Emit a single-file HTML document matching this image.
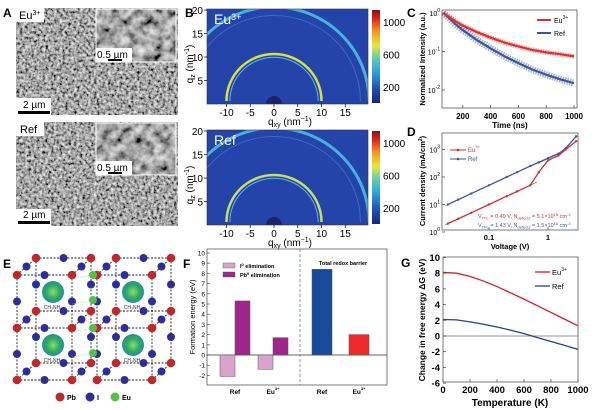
<!DOCTYPE html>
<html><head><meta charset="utf-8"><style>
body{margin:0;background:#fff}
svg{display:block;font-family:"Liberation Sans",sans-serif}
</style></head><body>
<svg id="fig" width="600" height="410" viewBox="0 0 600 410" xmlns="http://www.w3.org/2000/svg">
<defs>
<filter id="sem" x="0" y="0" width="100%" height="100%">
<feTurbulence type="fractalNoise" baseFrequency="0.35" numOctaves="3" seed="3"/>
<feColorMatrix type="matrix" values="1.4 0 0 0 -0.32  1.4 0 0 0 -0.32  1.4 0 0 0 -0.32  0 0 0 0 1"/>
</filter>
<filter id="sem2" x="0" y="0" width="100%" height="100%">
<feTurbulence type="fractalNoise" baseFrequency="0.11" numOctaves="3" seed="7"/>
<feColorMatrix type="matrix" values="1.3 0 0 0 -0.27  1.3 0 0 0 -0.27  1.3 0 0 0 -0.27  0 0 0 0 1"/>
</filter>
<linearGradient id="jet" x1="0" y1="1" x2="0" y2="0">
<stop offset="0" stop-color="#1a237e"/><stop offset="0.15" stop-color="#1e4fb0"/><stop offset="0.35" stop-color="#2fa8e0"/><stop offset="0.5" stop-color="#6fd0a0"/><stop offset="0.62" stop-color="#e8e83a"/><stop offset="0.78" stop-color="#f5901e"/><stop offset="0.9" stop-color="#e3261e"/><stop offset="1" stop-color="#8a1010"/>
</linearGradient>
<clipPath id="clipB1"><rect x="207" y="9" width="161" height="95"/></clipPath>
<clipPath id="clipB2"><rect x="207" y="130" width="161" height="95"/></clipPath>
<radialGradient id="mol"><stop offset="0" stop-color="#7fe07f"/><stop offset="0.6" stop-color="#33aa55"/><stop offset="1" stop-color="#1f8fb0"/></radialGradient>
</defs>

<g>
<text x="3" y="17" font-size="12" font-weight="bold">A</text>
<rect x="16" y="8" width="162" height="107" fill="#888" filter="url(#sem)"/>
<rect x="96" y="9" width="80" height="53" fill="#888" filter="url(#sem2)"/>
<rect x="96" y="9" width="80" height="53" fill="none" stroke="#fff" stroke-width="1"/>
<rect x="16" y="8" width="28" height="14" fill="#fff"/>
<text x="19" y="19" font-size="11">Eu<tspan font-size="7" dy="-4">3+</tspan></text>
<rect x="96" y="48" width="36" height="14" fill="#fff"/>
<text x="97" y="58" font-size="10">0.5 µm</text>
<rect x="108" y="59" width="14" height="2" fill="#000"/>
<rect x="16" y="98" width="35" height="17" fill="#fff"/>
<text x="23" y="108" font-size="10">2 µm</text>
<rect x="18" y="111" width="32" height="3" fill="#000"/>

<rect x="16" y="122" width="162" height="104" fill="#888" filter="url(#sem)"/>
<rect x="96" y="123" width="80" height="52" fill="#888" filter="url(#sem2)"/>
<rect x="96" y="123" width="80" height="52" fill="none" stroke="#fff"/>
<rect x="16" y="122" width="28" height="14" fill="#fff"/>
<text x="20" y="133" font-size="11">Ref</text>
<rect x="96" y="161" width="36" height="14" fill="#fff"/>
<text x="97" y="171" font-size="10">0.5 µm</text>
<rect x="108" y="172" width="14" height="2" fill="#000"/>
<rect x="16" y="209" width="35" height="17" fill="#fff"/>
<text x="23" y="218" font-size="10">2 µm</text>
<rect x="18" y="221" width="32" height="3" fill="#000"/>
</g>

<g id="pb">
<text x="185" y="17" font-size="12" font-weight="bold">B</text>
</g>
<g id="pc">
<text x="407" y="17" font-size="12" font-weight="bold">C</text>
</g>
<g id="pd">
<text x="407" y="136" font-size="12" font-weight="bold">D</text>
</g>
<g id="pe">
<text x="3" y="268" font-size="12" font-weight="bold">E</text>
</g>
<g id="pf">
<text x="183" y="268" font-size="12" font-weight="bold">F</text>
</g>
<g id="pg">
<text x="401" y="267" font-size="12" font-weight="bold">G</text>
</g>
</svg>
<script>
const bRingRadii = [10, 9.3, 18.2, 20];
const bRingColorsEu = ['#d8e040', '#5ab8f0', '#4a86d0', '#4ab0e0'];
const bRingColorsRef = ['#c8e060', '#5ab8f0', '#4a86d0', '#4ab0e0'];
const bXTicks = [-10, -5, 0, 5, 10, 15];
const bYTicks = [5, 10, 15, 20];
const cbTicks = [200, 600, 1000];

const cTimes = [60, 100, 150, 200, 300, 400, 500, 600, 700, 800, 900, 1000];
const cEu = [1, 0.8, 0.6, 0.47, 0.32, 0.23, 0.17, 0.135, 0.11, 0.095, 0.085, 0.075];
const cRef = [1, 0.75, 0.5, 0.36, 0.2, 0.12, 0.075, 0.05, 0.034, 0.025, 0.019, 0.015];
const cXTicks = [200, 400, 600, 800, 1000];
const cYTicks = [0, -1, -2];

const dV = [0.02, 0.03, 0.05, 0.1, 0.2, 0.3, 0.5, 0.7, 1, 1.5, 2, 3];
const dRef = [10, 15, 25, 50, 100, 150, 250, 340, 480, 700, 1100, 3000];
const dEu = [2, 3, 5, 10, 20, 30, 50, 150, 400, 600, 1000, 2000];
const dXTicks = [0.1, 1];
const dYTicks = [0, 1, 2, 3];

const fCats = ['Ref', 'Eu3+'];
const fI0 = [-2.1, -1.4];
const fPb0 = [5.3, 1.7];
const fTotal = [8.4, 2.0];
const fYTicks = [-2, -1, 0, 1, 2, 3, 4, 5, 6, 7, 8, 9, 10];

const gT = [0, 100, 200, 300, 400, 500, 600, 700, 800, 900, 1000];
const gEu = [8.1, 8.0, 7.6, 7.0, 6.3, 5.5, 4.7, 3.85, 3.0, 2.15, 1.3];
const gRef = [2.1, 2.05, 1.8, 1.5, 1.15, 0.75, 0.3, -0.2, -0.7, -1.2, -1.7];
const gXTicks = [0, 200, 400, 600, 800, 1000];
const gYTicks = [10, 8, 6, 4, 2, 0, -2, -4, -6];

const NS = 'http://www.w3.org/2000/svg';
function mk(parent, tag, attrs, text) {
  const e = document.createElementNS(NS, tag);
  for (const k in attrs) e.setAttribute(k, attrs[k]);
  if (text !== undefined) e.textContent = text;
  parent.appendChild(e);
  return e;
}
function sup(t, base, s, size) {
  t.textContent = base;
  mk(t, 'tspan', {'font-size': size || 6, dy: -4}, s);
  return t;
}

const pb = document.getElementById('pb');
function bx(q) { return 274 + q * 4.75; }
function drawGiwaxs(top, colors, clip, name) {
  const bottom = top + 95;
  const by = q => bottom - q * 4.7;
  const g = mk(pb, 'g', {'clip-path': 'url(#' + clip + ')'});
  
  
  mk(g, 'rect', {x: 207, y: top, width: 161, height: 95, fill: '#2444aa'});
  bRingRadii.forEach((r, i) => {
    const rx = r * 4.75, ry = r * 4.7;
    const a = mk(g, 'path', {d: `M${bx(-r)},${bottom - 3} A${rx},${ry} 0 0 1 ${bx(r)},${bottom - 3}`, fill: 'none', stroke: colors[i], 'stroke-width': i === 0 ? 2.5 : (i === 3 ? 3 : 1), opacity: i === 2 ? 0.6 : 1});
    
    
  });
  mk(g, 'ellipse', {cx: bx(0), cy: bottom, rx: 8, ry: 8, fill: '#1a2270'});
  mk(pb, 'rect', {x: 207, y: top, width: 161, height: 95, fill: 'none', stroke: '#333', 'stroke-width': 0.6});
  const lab = mk(pb, 'text', {x: 214, y: top + 15, 'font-size': 14, fill: '#fff'});
  if (name === 'giwaxs-eu') sup(lab, 'Eu', '3+', 9); else lab.textContent = 'Ref';
  
  
  bYTicks.forEach(v => {
    mk(pb, 'line', {x1: 204, x2: 207, y1: by(v), y2: by(v), stroke: '#000', 'stroke-width': 0.7});
    const t = mk(pb, 'text', {x: 203, y: by(v) + 4, 'font-size': 10, 'text-anchor': 'end'}, v);
    
    
  });
  const yt = mk(pb, 'text', {transform: `translate(193,${top + 55}) rotate(-90)`, 'font-size': 10, 'text-anchor': 'middle'});
  yt.innerHTML = 'q<tspan font-size="7" dy="2">z</tspan><tspan dy="-2"> (nm</tspan><tspan font-size="7" dy="-4">-1</tspan><tspan dy="4">)</tspan>';
  
  
  bXTicks.forEach(v => {
    mk(pb, 'line', {x1: bx(v), x2: bx(v), y1: bottom, y2: bottom + 3, stroke: '#000', 'stroke-width': 0.7});
    const t = mk(pb, 'text', {x: bx(v), y: bottom + 12, 'font-size': 10, 'text-anchor': 'middle'}, v);
    
    
  });
  const xt = mk(pb, 'text', {x: 290, y: bottom + 21, 'font-size': 10, 'text-anchor': 'middle'});
  xt.innerHTML = 'q<tspan font-size="7" dy="2">xy</tspan><tspan dy="-2"> (nm</tspan><tspan font-size="7" dy="-4">−1</tspan><tspan dy="4">)</tspan>';
  
  
  const cb = mk(pb, 'rect', {x: 372, y: top + 1, width: 8, height: 93, fill: 'url(#jet)'});
  
  
  cbTicks.forEach(v => {
    const y = top + 94 - (v / 1150) * 93;
    const t = mk(pb, 'text', {x: 383, y: y + 4, 'font-size': 10}, v);
    
    
  });
}
drawGiwaxs(9, bRingColorsEu, 'clipB1', 'giwaxs-eu');
drawGiwaxs(130, bRingColorsRef, 'clipB2', 'giwaxs-ref');

const pc = document.getElementById('pc');
const cx = t => 435 + t * 0.139;
const cy = v => 13 - Math.log10(v) * 38.5;
mk(pc, 'rect', {x: 442, y: 10, width: 135, height: 98, fill: 'none', stroke: '#444', 'stroke-width': 0.7});
function cLine(vals, color, wEnd, name) {
  const pts = cTimes.map((t, i) => cx(t) + ',' + cy(vals[i])).join(' ');
  const band = mk(pc, 'polyline', {points: pts, fill: 'none', stroke: color, 'stroke-width': wEnd, opacity: 0.45, 'stroke-dasharray': '1.5 1'});
  
  
  const l = mk(pc, 'polyline', {points: pts, fill: 'none', stroke: color, 'stroke-width': 2.2});
  
  
}
cLine(cRef, '#3a55a8', 7, 'c-ref');
cLine(cEu, '#e03030', 5, 'c-eu');
cXTicks.forEach(v => {
  mk(pc, 'line', {x1: cx(v), x2: cx(v), y1: 108, y2: 105, stroke: '#444', 'stroke-width': 0.7});
  const t = mk(pc, 'text', {x: cx(v), y: 119, 'font-size': 8, 'font-weight': 'bold', 'text-anchor': 'middle'}, v);
  
  
});
cYTicks.forEach(v => {
  const y = cy(Math.pow(10, v));
  mk(pc, 'line', {x1: 442, x2: 445, y1: y, y2: y, stroke: '#444', 'stroke-width': 0.7});
  const t = mk(pc, 'text', {x: 440, y: y + 3, 'font-size': 7, 'text-anchor': 'end'});
  sup(t, '10', String(v), 5);
  
  
});
{
  const t = mk(pc, 'text', {x: 510, y: 128, 'font-size': 8, 'font-weight': 'bold', 'text-anchor': 'middle'}, 'Time (ns)');
   
  const y = mk(pc, 'text', {transform: 'translate(425,59) rotate(-90)', 'font-size': 7.5, 'font-weight': 'bold', 'text-anchor': 'middle'}, 'Normalized Intensity (a.u.)');
   
  mk(pc, 'line', {x1: 537, x2: 551, y1: 20, y2: 20, stroke: '#e03030', 'stroke-width': 2});
  const l1 = mk(pc, 'text', {x: 554, y: 23, 'font-size': 7}); sup(l1, 'Eu', '3+', 5);
   
  mk(pc, 'line', {x1: 537, x2: 551, y1: 33, y2: 33, stroke: '#3a55a8', 'stroke-width': 2});
  const l2 = mk(pc, 'text', {x: 554, y: 36, 'font-size': 7}, 'Ref');
   
}

const pd = document.getElementById('pd');
const dx = v => 548 + Math.log10(v) * 59;
const dy = j => 232 - Math.log10(j) * 27.5;
mk(pd, 'rect', {x: 442, y: 133, width: 136, height: 97, fill: 'none', stroke: '#444', 'stroke-width': 0.7});
mk(pd, 'line', {x1: dx(0.018), y1: dy(9), x2: dx(1.3), y2: dy(650), stroke: '#3a9a60', 'stroke-width': 0.6});
mk(pd, 'line', {x1: dx(0.018), y1: dy(1.8), x2: dx(0.65), y2: dy(65), stroke: '#555', 'stroke-width': 0.6});
function dLine(vals, color, name) {
  const pts = dV.map((v, i) => dx(v) + ',' + dy(vals[i])).join(' ');
  const l = mk(pd, 'polyline', {points: pts, fill: 'none', stroke: color, 'stroke-width': 1.3});
  
  
  dV.forEach((v, i) => {
    const c = mk(pd, 'circle', {cx: dx(v), cy: dy(vals[i]), r: 1.2, fill: color});
    
    
  });
}
dLine(dRef, '#3a55a8', 'd-ref');
dLine(dEu, '#d03030', 'd-eu');
dXTicks.forEach(v => {
  mk(pd, 'line', {x1: dx(v), x2: dx(v), y1: 230, y2: 227, stroke: '#444', 'stroke-width': 0.7});
  const t = mk(pd, 'text', {x: dx(v), y: 240, 'font-size': 7.5, 'font-weight': 'bold', 'text-anchor': 'middle'}, v);
   
});
dYTicks.forEach(v => {
  const y = dy(Math.pow(10, v));
  mk(pd, 'line', {x1: 442, x2: 445, y1: y, y2: y, stroke: '#444', 'stroke-width': 0.7});
  const t = mk(pd, 'text', {x: 440, y: y + 3, 'font-size': 7, 'text-anchor': 'end'});
  sup(t, '10', String(v), 5);
   
});
{
  const t = mk(pd, 'text', {x: 510, y: 249, 'font-size': 7.5, 'font-weight': 'bold', 'text-anchor': 'middle'}, 'Voltage (V)');
   
  const y = mk(pd, 'text', {transform: 'translate(425,181) rotate(-90)', 'font-size': 7.5, 'font-weight': 'bold', 'text-anchor': 'middle'});
  y.innerHTML = 'Current density (mA/cm<tspan font-size="5" dy="-3">2</tspan><tspan dy="3">)</tspan>';
   
  mk(pd, 'line', {x1: 450, x2: 466, y1: 150, y2: 150, stroke: '#d03030', 'stroke-width': 1});
  mk(pd, 'circle', {cx: 458, cy: 150, r: 1.3, fill: '#d03030'});
  const l1 = mk(pd, 'text', {x: 468, y: 152, 'font-size': 6, fill: '#d03030'}); sup(l1, 'Eu', '3+', 4);
   
  mk(pd, 'line', {x1: 450, x2: 466, y1: 159, y2: 159, stroke: '#3a55a8', 'stroke-width': 1});
  mk(pd, 'circle', {cx: 458, cy: 159, r: 1.3, fill: '#3a55a8'});
  const l2 = mk(pd, 'text', {x: 468, y: 161, 'font-size': 6, fill: '#3a55a8'}, 'Ref');
   
  const a1 = mk(pd, 'text', {x: 478, y: 218, 'font-size': 5.5, fill: '#d03030'});
  a1.innerHTML = 'V<tspan font-size="4" dy="1.5">TFL</tspan><tspan dy="-1.5"> = 0.49 V, N</tspan><tspan font-size="4" dy="1.5">defects</tspan><tspan dy="-1.5"> = 5.1×10</tspan><tspan font-size="4" dy="-2">15</tspan><tspan dy="2"> cm</tspan><tspan font-size="4" dy="-2">-3</tspan>';
   
  const a2 = mk(pd, 'text', {x: 478, y: 227, 'font-size': 5.5, fill: '#3a55a8'});
  a2.innerHTML = 'V<tspan font-size="4" dy="1.5">TFL</tspan><tspan dy="-1.5"> = 1.43 V, N</tspan><tspan font-size="4" dy="1.5">defects</tspan><tspan dy="-1.5"> = 1.5×10</tspan><tspan font-size="4" dy="-2">16</tspan><tspan dy="2"> cm</tspan><tspan font-size="4" dy="-2">-3</tspan>';
   
}

const pe = document.getElementById('pe');
const eBlocks = [17, 97];
const eRows = [275, 328, 380];
const eW = 55, eDx = 19, eDy = -17;
const eu = [[93, 275], [93, 300], [93, 328], [93, 353]];
eBlocks.forEach(fx => {
  const P = [];
  [0, 1].forEach(d => eRows.forEach(r => [0, 1].forEach(c => P.push([fx + c * eW + d * eDx, r + d * eDy, d, r, c]))));
  const edges = [];
  P.forEach((a, ia) => P.forEach((b, ib) => {
    const same = (a[2] === b[2]) + (a[3] === b[3]) + (a[4] === b[4]);
    const adjRow = Math.abs(eRows.indexOf(a[3]) - eRows.indexOf(b[3])) <= 1;
    if (same === 2 && adjRow && ia < ib) edges.push([a, b]);
  }));
  edges.forEach(([a, b]) => {
    mk(pe, 'line', {x1: a[0], y1: a[1], x2: b[0], y2: b[1], stroke: '#222', 'stroke-width': 0.9, 'stroke-dasharray': '2 1.5'});
  });
  edges.forEach(([a, b]) => {
    const c = mk(pe, 'circle', {cx: (a[0] + b[0]) / 2, cy: (a[1] + b[1]) / 2, r: 4, fill: '#2c2f9a'});
     
  });
  P.forEach(p => {
    const c = mk(pe, 'circle', {cx: p[0], cy: p[1], r: 4.3, fill: '#c0282c'});
     
  });
  [292, 345].forEach(my => {
    const m = mk(pe, 'circle', {cx: fx + 36, cy: my, r: 11, fill: 'url(#mol)'});
     
    const t = mk(pe, 'text', {x: fx + 36, y: my + 17, 'font-size': 5, 'text-anchor': 'middle', fill: '#333'}, 'CH₃NH₃');
     
  });
});
eu.forEach(p => {
  mk(pe, 'line', {x1: 72, y1: p[1] + 4, x2: p[0], y2: p[1], stroke: '#6cc', 'stroke-width': 0.6, 'stroke-dasharray': '1 1'});
  const c = mk(pe, 'circle', {cx: p[0], cy: p[1], r: 4, fill: '#58c04a'});
   
});
[[60, '#c0282c', 'Pb'], [90, '#2c2f9a', 'I'], [115, '#58c04a', 'Eu']].forEach(([x, col, lab]) => {
  mk(pe, 'circle', {cx: x, cy: 397, r: 4.5, fill: col});
  const t = mk(pe, 'text', {x: x + 7, y: 400, 'font-size': 7, 'font-weight': 'bold'}, lab);
   
});

const pf = document.getElementById('pf');
const fy = v => 355 - v * 10.2;
mk(pf, 'rect', {x: 207, y: 249, width: 180, height: 136, fill: 'none', stroke: '#444', 'stroke-width': 0.7});
mk(pf, 'line', {x1: 207, x2: 387, y1: fy(0), y2: fy(0), stroke: '#333', 'stroke-width': 0.7});
mk(pf, 'line', {x1: 300, x2: 300, y1: 249, y2: 385, stroke: '#6a7ac0', 'stroke-width': 0.8, 'stroke-dasharray': '3 2'});
const fGroupX = [220, 258];
const fTotX = [312, 349];
function fBar(x, w, v, col, name) {
  const r = mk(pf, 'rect', {x: x, y: Math.min(fy(v), fy(0)), width: w, height: Math.abs(fy(v) - fy(0)), fill: col, stroke: '#555', 'stroke-width': 0.5});
   
}
fCats.forEach((c, i) => {
  fBar(fGroupX[i], 15, fI0[i], '#d8a4cc', 'bar-i0-' + i);
  fBar(fGroupX[i] + 15, 15, fPb0[i], '#a0268a', 'bar-pb0-' + i);
  fBar(fTotX[i], 20, fTotal[i], i === 0 ? '#1a4a9a' : '#ee2a2a', 'bar-total-' + i);
  const t1 = mk(pf, 'text', {x: fGroupX[i] + 15, y: 394, 'font-size': 6.5, 'font-weight': 'bold', 'text-anchor': 'middle'});
  const t2 = mk(pf, 'text', {x: fTotX[i] + 10, y: 394, 'font-size': 6.5, 'font-weight': 'bold', 'text-anchor': 'middle'});
  if (i === 1) { sup(t1, 'Eu', '3+', 4); sup(t2, 'Eu', '3+', 4); } else { t1.textContent = c; t2.textContent = c; }
   
   
});
fYTicks.forEach(v => {
  mk(pf, 'line', {x1: 207, x2: 210, y1: fy(v), y2: fy(v), stroke: '#444', 'stroke-width': 0.6});
  const t = mk(pf, 'text', {x: 205, y: fy(v) + 2.5, 'font-size': 6.5, 'text-anchor': 'end'}, v);
   
});
{
  const y = mk(pf, 'text', {transform: 'translate(195,317) rotate(-90)', 'font-size': 7.5, 'text-anchor': 'middle'}, 'Formation energy (eV)');
   
  mk(pf, 'rect', {x: 223, y: 263, width: 12, height: 5, fill: '#d8a4cc', stroke: '#555', 'stroke-width': 0.4});
  const l1 = mk(pf, 'text', {x: 240, y: 268, 'font-size': 5.5, 'font-weight': 'bold'});
  l1.innerHTML = 'I<tspan font-size="4" dy="-2">0</tspan><tspan dy="2"> elimination</tspan>';
   
  mk(pf, 'rect', {x: 223, y: 272, width: 12, height: 5, fill: '#a0268a', stroke: '#555', 'stroke-width': 0.4});
  const l2 = mk(pf, 'text', {x: 240, y: 277, 'font-size': 5.5, 'font-weight': 'bold'});
  l2.innerHTML = 'Pb<tspan font-size="4" dy="-2">0</tspan><tspan dy="2"> elimination</tspan>';
   
  const tt = mk(pf, 'text', {x: 343, y: 265, 'font-size': 5.5, 'font-weight': 'bold', 'text-anchor': 'middle'}, 'Total redox barrier');
   
}

const pg = document.getElementById('pg');
const gx = t => 443 + t * 0.135;
const gy = v => 336 - v * 7.85;
mk(pg, 'rect', {x: 443, y: 257, width: 135, height: 125, fill: 'none', stroke: '#444', 'stroke-width': 0.7});
mk(pg, 'line', {x1: 443, x2: 578, y1: gy(0), y2: gy(0), stroke: '#aaa', 'stroke-width': 1.2});
function gLine(vals, col, name) {
  const l = mk(pg, 'polyline', {points: gT.map((t, i) => gx(t) + ',' + gy(vals[i])).join(' '), fill: 'none', stroke: col, 'stroke-width': 1.3});
   
}
gLine(gEu, '#d42020', 'g-eu-line');
gLine(gRef, '#2a3f90', 'g-ref-line');
gXTicks.forEach(v => {
  mk(pg, 'line', {x1: gx(v), x2: gx(v), y1: 382, y2: 379, stroke: '#444', 'stroke-width': 0.7});
  const t = mk(pg, 'text', {x: gx(v), y: 393, 'font-size': 9.5, 'font-weight': 'bold', 'text-anchor': 'middle'}, v);
   
});
gYTicks.forEach(v => {
  mk(pg, 'line', {x1: 443, x2: 446, y1: gy(v), y2: gy(v), stroke: '#444', 'stroke-width': 0.7});
  const t = mk(pg, 'text', {x: 440, y: gy(v) + 3.5, 'font-size': 9.5, 'font-weight': 'bold', 'text-anchor': 'end'}, v);
   
});
{
  const t = mk(pg, 'text', {x: 510, y: 406, 'font-size': 10, 'font-weight': 'bold', 'text-anchor': 'middle'}, 'Temperature (K)');
   
  const y = mk(pg, 'text', {transform: 'translate(425,320) rotate(-90)', 'font-size': 8.5, 'font-weight': 'bold', 'text-anchor': 'middle'}, 'Change in free energy ΔG (eV)');
   
  mk(pg, 'line', {x1: 535, x2: 550, y1: 272, y2: 272, stroke: '#d42020', 'stroke-width': 1.3});
  const l1 = mk(pg, 'text', {x: 552, y: 275, 'font-size': 7.5}); sup(l1, 'Eu', '3+', 5);
   
  mk(pg, 'line', {x1: 535, x2: 550, y1: 286, y2: 286, stroke: '#2a3f90', 'stroke-width': 1.3});
  const l2 = mk(pg, 'text', {x: 552, y: 289, 'font-size': 7.5}, 'Ref');
   
}
</script>
</body></html>
